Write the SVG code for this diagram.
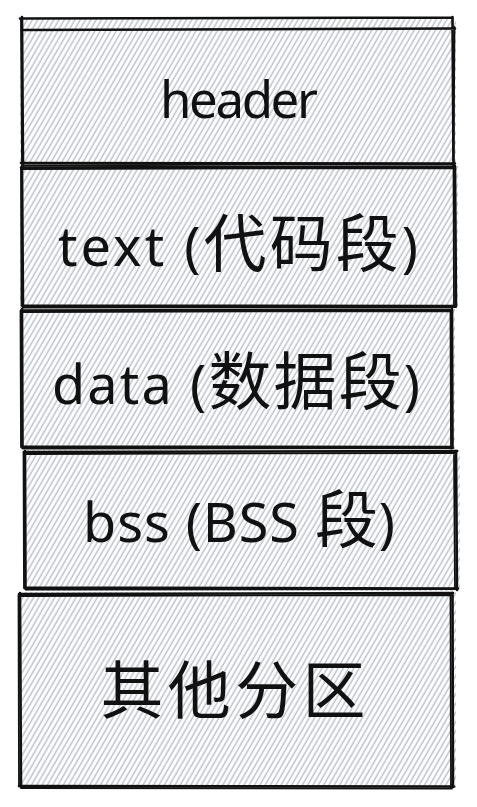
<svg xmlns="http://www.w3.org/2000/svg" width="477" height="807" viewBox="0 0 477 807">
<style>
.fill{fill:url(#hach);}
.edge{fill:none;stroke:#111;stroke-width:2.6;stroke-linecap:round;stroke-linejoin:round;}
.edge2{fill:none;stroke:#111;stroke-width:1.8;stroke-linecap:round;}
.lbl{font-family:"Noto Sans","Noto Sans CJK SC",sans-serif;font-size:54px;fill:#111;text-anchor:middle;}
.cjk{font-family:"Noto Sans CJK SC","Noto Sans",sans-serif;font-size:63px;}
</style>
<defs>
<pattern id="hach" patternUnits="userSpaceOnUse" width="4.6" height="20" patternTransform="rotate(30)">
<line x1="1.2" y1="0" x2="1.2" y2="20" stroke="#bcc2c9" stroke-width="1.5"/>
</pattern>
</defs>
<rect width="477" height="807" fill="#ffffff"/>
<g id="connectors"/>
<g id="node-header">
<rect class="fill" x="20" y="18" width="436" height="148"/>
<path class="edge" d="M20 18.5 L452 17.5 M22 30 L455 28.5 M22 17 L23 165 M452.5 17 L453.5 166 M21 163 L455 163.5"/>
<path class="edge2" d="M21 20 L22 164 M454.5 27 L453.5 165 M22 165.5 L453 164"/>
<text class="lbl" x="239" y="118" style="font-size:51px" textLength="158" lengthAdjust="spacing">header</text>
</g>
<g id="node-text">
<rect class="fill" x="20" y="166" width="438" height="142"/>
<path class="edge" d="M21 167.5 L455 166.5 M22 166 L23 307 M455 166 L456 306 M22 305.5 L455 306"/>
<path class="edge2" d="M23 169 L454 168 M21 168 L21.5 305 M453.5 168 L454 307 M23 307.5 L456 307"/>
<text class="lbl" x="238" y="266" textLength="360" lengthAdjust="spacing">text (<tspan class="cjk">代码段</tspan>)</text>
</g>
<g id="node-data">
<rect class="fill" x="20" y="309" width="435" height="140"/>
<path class="edge" d="M21 310.5 L452 309.5 M22 309 L22.5 448 M452 309 L452.5 448 M22 446.5 L452 447"/>
<path class="edge2" d="M23 312 L451 311 M20.5 311 L21 447 M450.5 311 L451 449 M23 448.5 L453 448"/>
<text class="lbl" x="236" y="404" textLength="368" lengthAdjust="spacing">data (<tspan class="cjk">数据段</tspan>)</text>
</g>
<g id="node-bss">
<rect class="fill" x="23" y="450" width="437" height="141"/>
<path class="edge" d="M24 452 L457 451 M25 451 L25.5 589 M456 451 L457 590 M25 587.5 L458 588.5"/>
<path class="edge2" d="M26 454 L455 453 M23.5 452 L24 588 M454 453 L455 589 M26 589.5 L456 589"/>
<text class="lbl" x="239" y="542" textLength="312" lengthAdjust="spacing">bss (BSS <tspan class="cjk">段</tspan>)</text>
</g>
<g id="node-other">
<rect class="fill" x="18" y="592" width="438" height="196"/>
<path class="edge" d="M19 594 L453 593 M20 593 L21 787 M452.5 593 L453 787 M19 786 L454 786.5"/>
<path class="edge2" d="M21 596 L451 595 M18.5 595 L19 786 M450.5 595 L451 788 M21 788 L452 788.5"/>
<text class="lbl cjk" x="233" y="713" textLength="265" lengthAdjust="spacing">其他分区</text>
</g>
</svg>
